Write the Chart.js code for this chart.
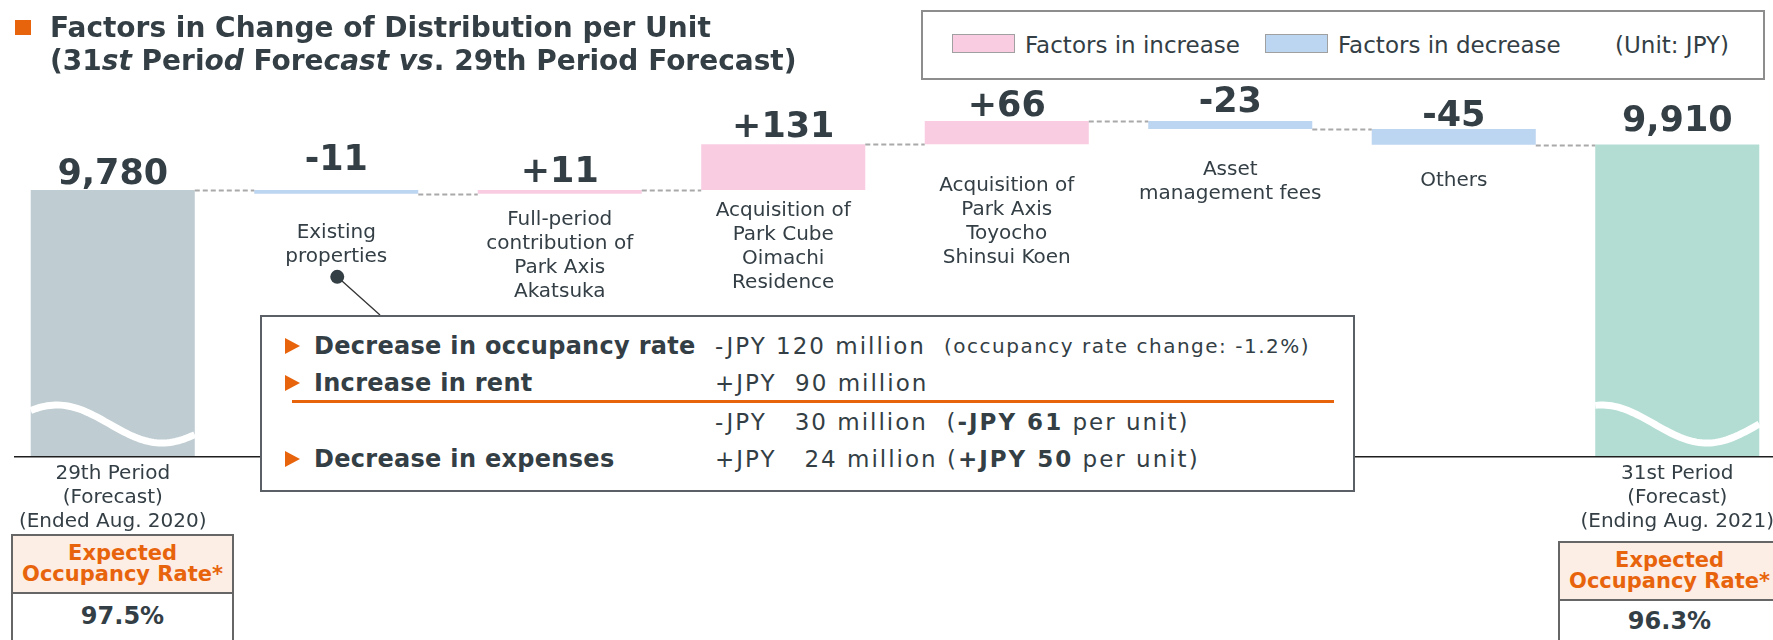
<!DOCTYPE html>
<html>
<head>
<meta charset="utf-8">
<script src="https://cdn.jsdelivr.net/npm/chart.js@4.4.0/dist/chart.umd.min.js"></script>
<style>
html,body{margin:0;padding:0;width:1773px;height:640px;overflow:hidden;background:#fff;
  font-family:"DejaVu Sans",Verdana,sans-serif;color:#333e45;}
.abs{position:absolute;white-space:pre;}
#chartWrap{position:absolute;left:0;top:0;width:1790px;height:640px;}
#title{left:50px;top:11px;font-size:28px;font-weight:bold;line-height:33px;color:#333e45;}
#sq{left:15px;top:20px;width:16px;height:15px;background:#e8640c;}
#legend{left:921px;top:10px;width:844px;height:70px;box-sizing:border-box;border:2px solid #8d8d8d;background:#fff;}
.sw{top:34px;width:63px;height:19px;box-sizing:border-box;border:1px solid #a0a0a0;}
.lg{top:31px;font-size:23px;line-height:28px;}
#note{left:260px;top:315px;width:1095px;height:177px;box-sizing:border-box;border:2px solid #5a6066;background:#fff;z-index:2;}
.tri{width:0;height:0;border-left:15px solid #e8640c;border-top:8px solid transparent;border-bottom:8px solid transparent;z-index:3;}
.bl{left:314px;font-size:24px;font-weight:bold;line-height:30px;letter-spacing:0.3px;z-index:3;}
.nm{left:715px;font-size:23px;line-height:30px;letter-spacing:2px;z-index:3;}
.sm{font-size:20px;line-height:30px;letter-spacing:1.5px;z-index:3;}
#oline{left:292px;top:400px;width:1042px;height:3px;background:#e8640c;z-index:3;}
.occ{box-sizing:border-box;border:2px solid #666;background:#fff;z-index:2;}
.occH{position:absolute;left:0;right:0;top:0;background:#fdeee5;border-bottom:2px solid #666;
  color:#e8640c;font-weight:bold;font-size:21px;line-height:21px;text-align:center;white-space:pre;}
.occV{position:absolute;left:0;right:0;bottom:0;text-align:center;font-weight:bold;font-size:24px;color:#333e45;}
</style>
</head>
<body>
<div id="chartWrap"><canvas id="c" width="1790" height="640"></canvas></div>

<div class="abs" id="sq"></div>
<div class="abs" id="title">Factors in Change of Distribution per Unit
(31<i>st</i> Peri<i>od</i> Fore<i>cast</i> <i>vs</i>. 29th Period Forecast)</div>

<div class="abs" id="legend"></div>
<div class="abs sw" style="left:952px;background:#f9cce2;"></div>
<div class="abs lg" style="left:1025px;">Factors in increase</div>
<div class="abs sw" style="left:1265px;background:#bcd5f1;"></div>
<div class="abs lg" style="left:1338px;">Factors in decrease</div>
<div class="abs lg" style="left:1615px;">(Unit: JPY)</div>

<div class="abs" id="note"></div>
<div class="abs tri" style="left:285px;top:338px;"></div>
<div class="abs bl" style="top:331px;">Decrease in occupancy rate</div>
<div class="abs nm" style="top:331px;">-JPY 120 million</div>
<div class="abs sm" style="left:944px;top:331px;">(occupancy rate change: -1.2%)</div>
<div class="abs tri" style="left:285px;top:375px;"></div>
<div class="abs bl" style="top:368px;">Increase in rent</div>
<div class="abs nm" style="top:368px;">+JPY  90 million</div>
<div class="abs" id="oline"></div>
<div class="abs nm" style="top:407px;">-JPY   30 million  (<b>-JPY 61</b> per unit)</div>
<div class="abs tri" style="left:285px;top:451px;"></div>
<div class="abs bl" style="top:444px;">Decrease in expenses</div>
<div class="abs nm" style="top:444px;">+JPY   24 million (<b>+JPY 50</b> per unit)</div>

<div class="abs occ" style="left:11px;top:534px;width:223px;height:108px;">
  <div class="occH" style="height:58px;padding-top:7px;box-sizing:border-box;">Expected
Occupancy Rate*</div>
  <div class="occV" style="height:48px;line-height:48px;">97.5%</div>
</div>
<div class="abs occ" style="left:1558px;top:541px;width:223px;height:108px;">
  <div class="occH" style="height:58px;padding-top:7px;box-sizing:border-box;">Expected
Occupancy Rate*</div>
  <div class="occV" style="height:48px;line-height:44px;">96.3%</div>
</div>

<script>
// ---------------- data ----------------
const categories = [
  ["29th Period", "(Forecast)", "(Ended Aug. 2020)"],
  ["Existing", "properties"],
  ["Full-period", "contribution of", "Park Axis", "Akatsuka"],
  ["Acquisition of", "Park Cube", "Oimachi", "Residence"],
  ["Acquisition of", "Park Axis", "Toyocho", "Shinsui Koen"],
  ["Asset", "management fees"],
  ["Others"],
  ["31st Period", "(Forecast)", "(Ending Aug. 2021)"]
];
const startValue = 9780;
const changes = [-11, 11, 131, 66, -23, -45];
const endValue = 9910;
const valueLabels = ["9,780", "-11", "+11", "+131", "+66", "-23", "-45", "9,910"];

// ---------------- styles ----------------
const COL_START = "#bfccd2";
const COL_END = "#b3ddd3";
const COL_UP = "#f9cce2";
const COL_DOWN = "#bcd5f1";
const TEXT = "#333e45";
const CALLOUT_END = {x: 380, y: 315};
// per-bar label gaps (px) – layout styling only
const VALUE_GAP = [6, 20, 8, 7, 5, 9, 3, 14];
const CAT_GAP = [18, 39, 26, 21, 42, 41, 36, 18];
// wave decoration shape per total bar: [peak position, half period]
const WAVE_SHAPE = {first: [0.16, 0.64], last: [0.04, 0.64]};

// build floating bars from the data
const barData = [startValue];
const barColors = [COL_START];
const levels = [startValue];
let level = startValue;
changes.forEach(c => {
  barData.push([level, level + c]);
  barColors.push(c >= 0 ? COL_UP : COL_DOWN);
  level += c;
  levels.push(level);
});
barData.push(endValue);
barColors.push(COL_END);
levels.push(endValue);

const decor = {
  id: "decor",
  afterDatasetsDraw(chart) {
    const ctx = chart.ctx;
    const meta = chart.getDatasetMeta(0);
    const y = chart.scales.y;
    const area = chart.chartArea;
    const n = meta.data.length;
    ctx.save();

    // connectors
    ctx.strokeStyle = "#a9a9a9";
    ctx.lineWidth = 2;
    ctx.setLineDash([5, 3]);
    for (let i = 0; i < n - 1; i++) {
      const a = meta.data[i], b = meta.data[i + 1];
      const py = Math.round(y.getPixelForValue(levels[i])) + 0.5;
      ctx.beginPath();
      ctx.moveTo(a.x + a.width / 2, py);
      ctx.lineTo(b.x - b.width / 2, py);
      ctx.stroke();
    }
    ctx.setLineDash([]);

    // wave (axis break) on total bars
    [[0, WAVE_SHAPE.first], [n - 1, WAVE_SHAPE.last]].forEach(([i, shp]) => {
      const el = meta.data[i];
      const left = el.x - el.width / 2, w = el.width;
      const base = area.bottom;
      ctx.strokeStyle = "#ffffff";
      ctx.lineWidth = 7;
      ctx.lineCap = "butt";
      ctx.beginPath();
      for (let k = 0; k <= 60; k++) {
        const t = k / 60;
        const yy = base - 32 - 19 * Math.cos(Math.PI * (t - shp[0]) / shp[1]);
        const xx = left + t * w;
        if (k === 0) ctx.moveTo(xx, yy); else ctx.lineTo(xx, yy);
      }
      ctx.stroke();
    });

    // axis line
    ctx.strokeStyle = "#1e1e1e";
    ctx.lineWidth = 1.5;
    ctx.beginPath();
    ctx.moveTo(14, area.bottom + 0.75);
    ctx.lineTo(chart.width, area.bottom + 0.75);
    ctx.stroke();

    // value labels
    ctx.fillStyle = TEXT;
    ctx.textAlign = "center";
    ctx.textBaseline = "alphabetic";
    ctx.font = "bold 35px 'DejaVu Sans'";
    meta.data.forEach((el, i) => {
      const top = Math.min(el.y, el.base);
      ctx.fillText(valueLabels[i], el.x, top - VALUE_GAP[i]);
    });

    // category labels
    ctx.font = "20px 'DejaVu Sans'";
    ctx.textBaseline = "middle";
    let existingLast = null;
    meta.data.forEach((el, i) => {
      const lines = categories[i];
      const isTotal = (i === 0 || i === n - 1);
      const y0 = (isTotal ? area.bottom : Math.max(el.y, el.base)) + CAT_GAP[i];
      lines.forEach((s, j) => ctx.fillText(s, el.x, y0 + j * 24));
      if (i === 1) existingLast = {x: el.x, y: y0 + (lines.length - 1) * 24};
    });

    // callout dot + line
    if (existingLast) {
      const dx = existingLast.x + 1, dy = existingLast.y + 20;
      ctx.strokeStyle = "#333";
      ctx.lineWidth = 1.3;
      ctx.beginPath();
      ctx.moveTo(dx, dy);
      ctx.lineTo(CALLOUT_END.x, CALLOUT_END.y);
      ctx.stroke();
      ctx.fillStyle = "#333e45";
      ctx.beginPath();
      ctx.arc(dx, dy, 7, 0, Math.PI * 2);
      ctx.fill();
    }
    ctx.restore();
  }
};

new Chart(document.getElementById("c"), {
  type: "bar",
  data: {
    labels: categories.map(c => c.join(" ")),
    datasets: [{
      data: barData,
      backgroundColor: barColors,
      borderWidth: 0,
      barPercentage: 0.734,
      categoryPercentage: 1
    }]
  },
  options: {
    responsive: false,
    animation: false,
    devicePixelRatio: 1,
    layout: {padding: {top: 113, bottom: 184, left: 1, right: 1}},
    plugins: {legend: {display: false}, tooltip: {enabled: false}},
    scales: {
      x: {display: false, offset: true, grid: {display: false}},
      y: {display: false, min: 9020, max: 10000, grid: {display: false}}
    }
  },
  plugins: [decor]
});
</script>
</body>
</html>
